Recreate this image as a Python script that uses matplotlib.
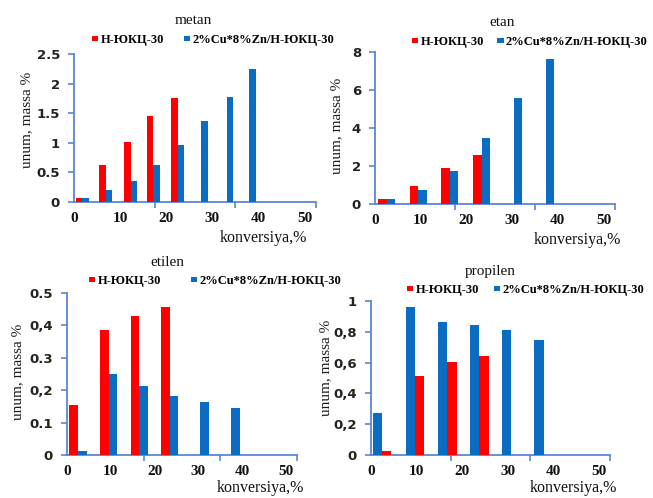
import matplotlib
matplotlib.use("Agg")
import matplotlib.pyplot as plt

# ---------------- data ----------------
series_names = ["Н-ЮКЦ-30", "2%Cu*8%Zn/Н-ЮКЦ-30"]
x_ticks = [0, 10, 20, 30, 40, 50]
x_label = "konversiya,%"
y_label = "unum, massa %"

metan_x = [1.8, 6.9, 12.3, 17.2, 22.5, 27.6, 33.1, 38.0]
metan_red = [0.06, 0.62, 1.02, 1.45, 1.76]
metan_blue = [0.06, 0.20, 0.35, 0.62, 0.97, 1.37, 1.77, 2.24]
metan_yticks = [0, 0.5, 1, 1.5, 2, 2.5]
metan_ylabels = ["0", "0.5", "1", "1.5", "2", "2.5"]

etan_x = [2.6, 9.5, 16.4, 23.3, 30.3, 37.3]
etan_red = [0.25, 0.95, 1.88, 2.57]
etan_blue = [0.25, 0.74, 1.72, 3.47, 5.58, 7.62]
etan_yticks = [0, 2, 4, 6, 8]
etan_ylabels = ["0", "2", "4", "6", "8"]

etilen_x = [2.5, 9.5, 16.5, 23.4, 30.4, 37.4]
etilen_red = [0.155, 0.385, 0.43, 0.457]
etilen_blue = [0.012, 0.25, 0.214, 0.182, 0.163, 0.145]
etilen_yticks = [0, 0.1, 0.2, 0.3, 0.4, 0.5]
etilen_ylabels = ["0", "0.1", "0,2", "0.3", "0,4", "0.5"]

propilen_x = [2.4, 9.7, 16.8, 23.8, 30.8, 37.9]
propilen_red = [0.025, 0.51, 0.605, 0.64]
propilen_blue = [0.27, 0.96, 0.865, 0.847, 0.81, 0.75]
propilen_yticks = [0, 0.2, 0.4, 0.6, 0.8, 1.0]
propilen_ylabels = ["0", "0,2", "0,4", "0,6", "0,8", "1"]

# ---------------- style ----------------
W, H = 653, 498
RED = "#FF0000"
BLUE = "#0A6CC2"
AXC = "#5A86D6"
SERIF = ["Liberation Serif", "DejaVu Serif"]

fig = plt.figure(figsize=(W / 100, H / 100), dpi=100)


def fx(x):
    return x / W


def fy(y):
    return 1 - y / H


panels = [
    dict(title="metan", x=metan_x, red=metan_red, blue=metan_blue,
         yt=metan_yticks, yl=metan_ylabels, ymax=2.5, w=1.45, red_left=True,
         box=(74, 316, 54, 202), title_xy=(193, 20), leg_xy=(92, 40), colsp=1.6,
         ylab_xy=(27, 120), xlab_xy=(263, 238)),
    dict(title="etan", x=etan_x, red=etan_red, blue=etan_blue,
         yt=etan_yticks, yl=etan_ylabels, ymax=8, w=1.86, red_left=True,
         box=(375, 615, 52, 204), title_xy=(502, 23), leg_xy=(412, 42), colsp=1.05,
         ylab_xy=(337, 126), xlab_xy=(577, 240)),
    dict(title="etilen", x=etilen_x, red=etilen_red, blue=etilen_blue,
         yt=etilen_yticks, yl=etilen_ylabels, ymax=0.5, w=2.0, red_left=True,
         box=(67, 297, 293, 455), title_xy=(167, 263), leg_xy=(89, 281), colsp=2.4,
         ylab_xy=(18, 372), xlab_xy=(260, 488)),
    dict(title="propilen", x=propilen_x, red=propilen_red, blue=propilen_blue,
         yt=propilen_yticks, yl=propilen_ylabels, ymax=1.0, w=2.05, red_left=False,
         box=(371, 610, 301, 455), title_xy=(490, 272), leg_xy=(407, 290), colsp=1.2,
         ylab_xy=(326, 368), xlab_xy=(573, 488)),
]

for p in panels:
    l, r, t, b = p["box"]
    ax = fig.add_axes([fx(l), fy(b), (r - l) / W, (b - t) / H])
    n = len(p["red"])
    wr = -p["w"] if p["red_left"] else p["w"]
    wb = p["w"] if p["red_left"] else -p["w"]
    br = ax.bar(p["x"][:n], p["red"], width=wr, align="edge", color=RED, zorder=3)
    bb = ax.bar(p["x"], p["blue"], width=wb, align="edge", color=BLUE, zorder=3)
    ax.set_xlim(0, 52.5)
    ax.set_ylim(0, p["ymax"])
    for s in ("top", "right"):
        ax.spines[s].set_visible(False)
    for s in ("left", "bottom"):
        ax.spines[s].set_color(AXC)
        ax.spines[s].set_linewidth(1.3)
    ax.set_xticks(x_ticks)
    ax.set_xticklabels([str(v) for v in x_ticks], fontfamily=SERIF,
                       fontweight="bold", fontsize=11, color="#111111")
    ax.set_xticks([0, 17.5, 35, 52.5], minor=True)
    ax.tick_params(axis="x", which="major", length=0, pad=7)
    ax.tick_params(axis="x", which="minor", length=4, width=1.2, color=AXC,
                   direction="out")
    ax.set_yticks(p["yt"])
    ax.set_yticklabels(p["yl"], fontfamily="DejaVu Sans", fontweight="bold",
                       fontsize=9.5, color="#222222")
    ax.tick_params(axis="y", length=4, width=1.2, color=AXC, pad=6)
    ax.patch.set_alpha(0)

    fig.text(fx(p["title_xy"][0]), fy(p["title_xy"][1]), p["title"],
             ha="center", va="center", fontfamily=SERIF, fontsize=11,
             color="#111111")
    fig.text(fx(p["ylab_xy"][0]), fy(p["ylab_xy"][1]), y_label,
             ha="center", va="center", rotation=90, fontfamily=SERIF,
             fontsize=11, color="#1a1a1a")
    fig.text(fx(p["xlab_xy"][0]), fy(p["xlab_xy"][1]), x_label,
             ha="center", va="center", fontfamily=SERIF, fontsize=11.5,
             color="#111111")
    ax.legend([br, bb], series_names, loc="center left",
              bbox_to_anchor=(fx(p["leg_xy"][0]), fy(p["leg_xy"][1])),
              bbox_transform=fig.transFigure, ncol=2, frameon=False,
              handlelength=0.5, handleheight=0.3, handletextpad=0.2,
              columnspacing=p["colsp"], borderpad=0, borderaxespad=0,
              prop=dict(family=SERIF, weight="bold", size=9))

fig.savefig("out.png", dpi=100)
